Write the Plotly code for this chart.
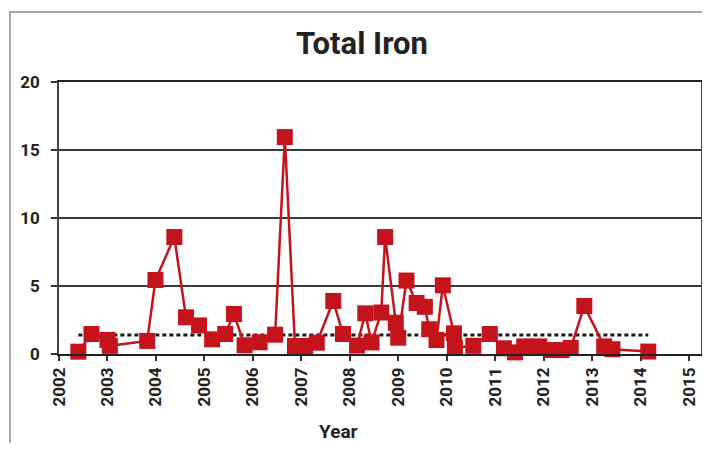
import plotly.graph_objects as go

# ---- data ----
years = [2002.40, 2002.67, 2003.00, 2003.05, 2003.82, 2003.99, 2004.38, 2004.62, 2004.89,
         2005.16, 2005.43, 2005.61, 2005.83, 2006.14, 2006.46, 2006.66, 2006.87, 2007.08,
         2007.32, 2007.66, 2007.86, 2008.15, 2008.32, 2008.45, 2008.65, 2008.73, 2008.95,
         2009.00, 2009.17, 2009.38, 2009.55, 2009.64, 2009.79, 2009.92, 2010.15, 2010.17,
         2010.55, 2010.89, 2011.18, 2011.41, 2011.60, 2011.91, 2012.17, 2012.37,
         2012.56, 2012.84, 2013.25, 2013.42, 2014.16]
iron = [0.17, 1.47, 1.03, 0.60, 0.96, 5.44, 8.60, 2.70, 2.10,
        1.08, 1.47, 2.94, 0.64, 0.86, 1.42, 15.95, 0.59, 0.59,
        0.83, 3.90, 1.47, 0.62, 2.99, 0.85, 3.05, 8.60, 2.30,
        1.20, 5.40, 3.75, 3.47, 1.82, 1.03, 5.05, 1.52, 0.45,
        0.60, 1.47, 0.42, 0.12, 0.56, 0.56, 0.29, 0.29,
        0.44, 3.53, 0.56, 0.35, 0.18]

ref_level = 1.4
ref_start, ref_end = 2002.40, 2014.16

x_ticks = list(range(2002, 2016))
x_tick_labels = [str(y) for y in x_ticks]
y_ticks = [0, 5, 10, 15, 20]

title_text = "Total Iron"
x_title = "Year"

# ---- figure ----
FONT = "Roboto, Liberation Sans, sans-serif"
RED = "#C5131C"

fig = go.Figure()
fig.add_trace(go.Scatter(
    x=[ref_start, ref_end], y=[ref_level, ref_level], mode="lines",
    line=dict(color="#1a1a1a", width=3, dash="4px,3px"),
    hoverinfo="skip", showlegend=False))
fig.add_trace(go.Scatter(
    x=years, y=iron, mode="lines+markers",
    line=dict(color=RED, width=2.5),
    marker=dict(symbol="square", size=16, color=RED),
    showlegend=False, cliponaxis=False))

# page has an 8px body margin: figure coords = screen coords - 8
OFF = 8
W, H = 694, 435
L, R, T, B = 59 - OFF, 701 - OFF, 82 - OFF, 354 - OFF
pw, ph = R - L, B - T

def px(xs):
    return (xs - OFF - L) / pw

def py(ys):
    return (B - (ys - OFF)) / ph

tickfont = dict(family=FONT, size=17, color="#222", weight="bold")

fig.update_layout(
    width=W, height=H,
    margin=dict(l=L, r=W - R, t=T, b=H - B, autoexpand=False),
    paper_bgcolor="white", plot_bgcolor="white",
    font=dict(family=FONT, color="#222", size=17, weight="bold"),
    xaxis=dict(
        range=[2002, 2015.248], tickmode="array", tickvals=x_ticks, ticktext=x_tick_labels,
        tickangle=-90, ticks="outside", ticklen=5, tickwidth=1.5, tickcolor="#333",
        showline=True, linecolor="#222", linewidth=1.5, mirror=True,
        showgrid=False, zeroline=False, automargin=False,
        tickfont=tickfont,
    ),
    yaxis=dict(
        range=[0, 20], tickmode="array", tickvals=y_ticks,
        ticks="outside", ticklen=6, tickwidth=1.5, tickcolor="#333",
        showline=True, linecolor="#444", linewidth=1.5, mirror=True,
        showgrid=True, gridcolor="#3a3a3a", gridwidth=1.5, zeroline=False,
        ticklabelstandoff=8, automargin=False,
        tickfont=tickfont,
    ),
    shapes=[dict(type="rect", xref="paper", yref="paper",
                 x0=px(10), x1=px(740), y0=py(480), y1=py(12),
                 line=dict(color="#8a8a8a", width=1.5), layer="below")],
    annotations=[
        dict(text=title_text, xref="paper", yref="paper", x=px(362), y=py(43),
             xanchor="center", yanchor="middle", showarrow=False,
             font=dict(family=FONT, size=31, color="#222", weight="bold")),
        dict(text=x_title, xref="paper", yref="paper", x=px(338), y=py(432),
             xanchor="center", yanchor="middle", showarrow=False,
             font=dict(family=FONT, size=19, color="#222", weight="bold")),
    ],
)

fig.write_html("out.html")
